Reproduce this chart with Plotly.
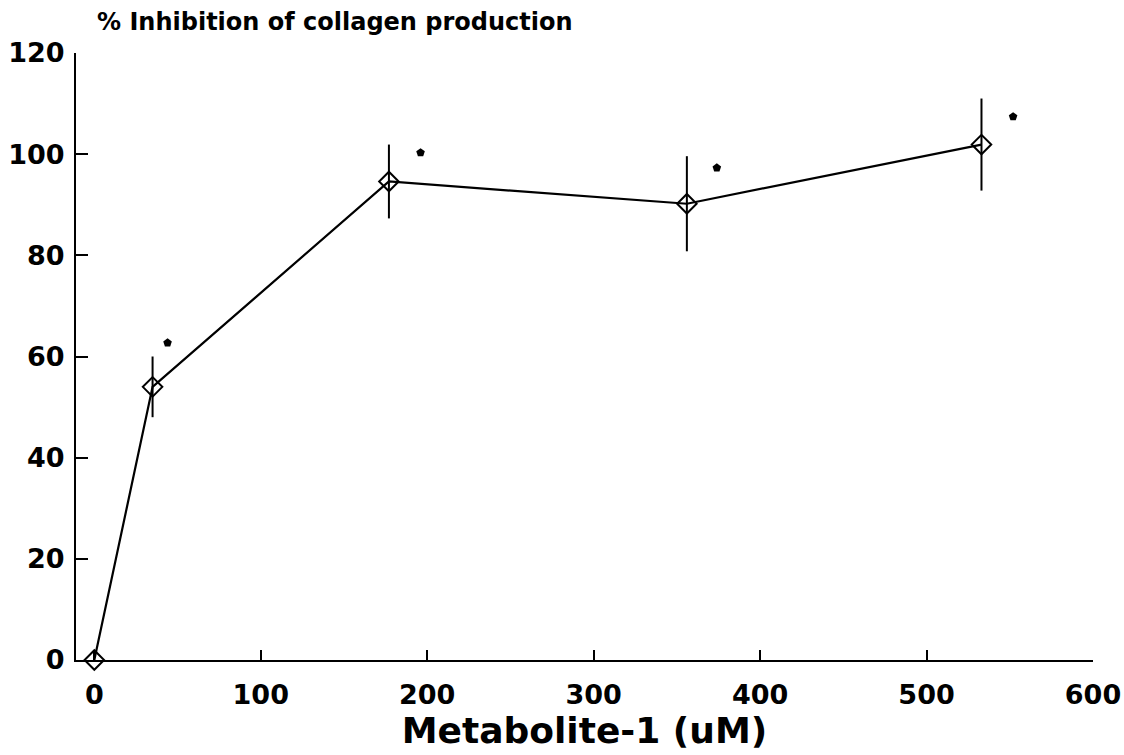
import plotly.graph_objects as go

# Data
conc_uM = [0, 35, 177, 356, 533]
inhibition_pct = [0, 54, 94.6, 90.2, 101.9]
error_pct = [0, 6, 7.3, 9.4, 9.1]

# significance markers (asterisks) positions
sig_x = [44, 196, 374, 552]
sig_y = [62.7, 100.3, 97.3, 107.4]

x_ticks = [0, 100, 200, 300, 400, 500, 600]
y_ticks = [0, 20, 40, 60, 80, 100, 120]

FONT = "DejaVu Sans"

fig = go.Figure()

fig.add_trace(go.Scatter(
    x=conc_uM, y=inhibition_pct,
    mode="lines+markers",
    line=dict(color="black", width=2.2),
    marker=dict(symbol="diamond-open", size=15, color="black",
                line=dict(color="black", width=2)),
    error_y=dict(type="data", array=error_pct, visible=True,
                 color="black", thickness=2, width=0),
    cliponaxis=False,
    showlegend=False,
))

fig.add_trace(go.Scatter(
    x=sig_x, y=sig_y,
    mode="markers",
    marker=dict(symbol="pentagon", size=9, color="black"),
    cliponaxis=False,
    showlegend=False,
))

fig.update_layout(
    width=1124, height=755,
    margin=dict(l=76, r=31, t=53, b=95),
    plot_bgcolor="white", paper_bgcolor="white",
    font=dict(family=FONT, color="black"),
    xaxis=dict(
        range=[-11, 600],
        automargin=False,
        tickvals=x_ticks,
        ticktext=[str(v) for v in x_ticks],
        ticks="inside", ticklen=10, tickwidth=1.5, tickcolor="black",
        showline=True, linecolor="black", linewidth=2,
        showgrid=False, zeroline=False,
        tickfont=dict(family=FONT, size=27, color="black", weight="bold"),
        ticklabelstandoff=10,
        title=dict(text="<b>Metabolite-1 (uM)</b>",
                   font=dict(family=FONT, size=36, color="black"),
                   standoff=2),
    ),
    yaxis=dict(
        range=[0, 120],
        automargin=False,
        tickvals=y_ticks,
        ticktext=[str(v) for v in y_ticks],
        ticks="inside", ticklen=12, tickwidth=1.5, tickcolor="black",
        showline=True, linecolor="black", linewidth=2,
        showgrid=False, zeroline=False,
        tickfont=dict(family=FONT, size=27, color="black", weight="bold"),
        ticklabelstandoff=4,
    ),
    annotations=[dict(
        text="<b>% Inhibition of collagen production</b>",
        xref="paper", yref="paper", x=0, y=1.0, xshift=19, yshift=31,
        xanchor="left", yanchor="middle", showarrow=False,
        font=dict(family=FONT, size=24, color="black"),
    )],
)

fig.write_html("out.html")
